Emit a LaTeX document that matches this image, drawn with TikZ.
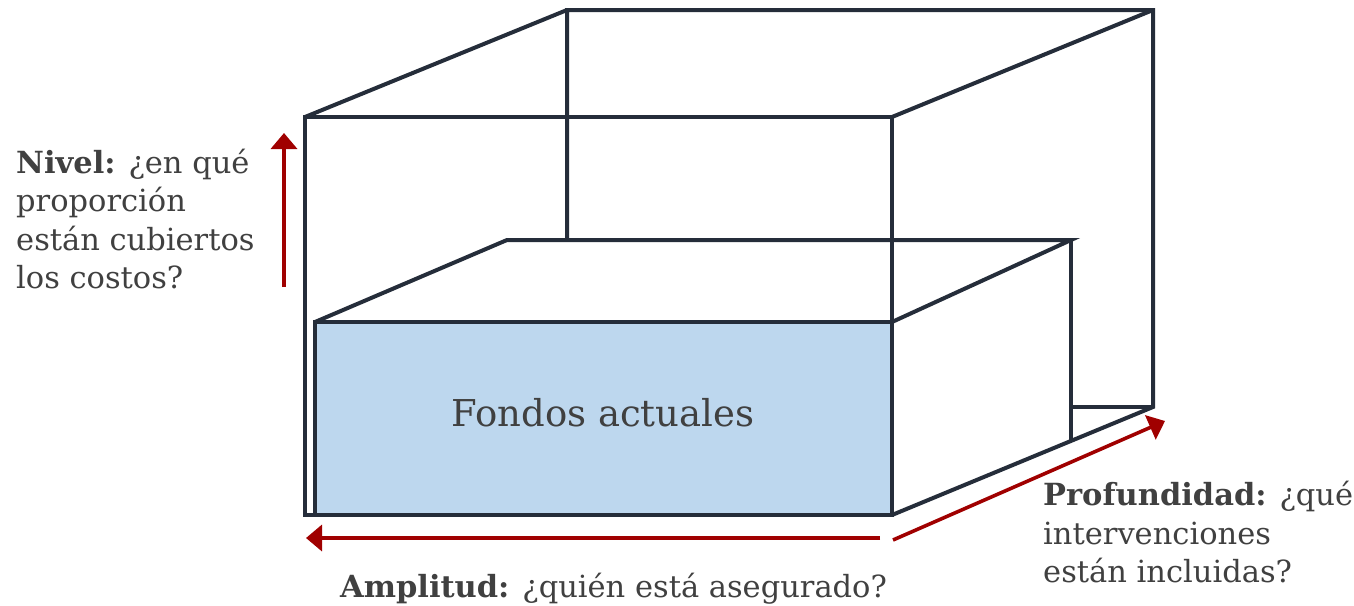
\documentclass[tikz,border=0pt]{standalone}
\usepackage{fontspec}
\setmainfont{DejaVu Serif}
\usetikzlibrary{arrows.meta}
\definecolor{boxline}{HTML}{252D3A}
\definecolor{boxfill}{HTML}{BDD7EE}
\definecolor{arrowred}{HTML}{A00000}
\definecolor{txt}{HTML}{404040}
\tikzset{
  edge/.style={draw=boxline, line width=4pt, line join=miter, line cap=butt},
  dimarrow/.style={draw=arrowred, line width=3.6pt, -{Triangle[length=16pt,width=26pt]}},
  label/.style={inner sep=0pt, text=txt, align=left, font=\fontsize{30.5}{38.4}\selectfont},
}
\begin{document}
\begin{tikzpicture}[x=1pt,y=-1pt]
\useasboundingbox (0,0) rectangle (1354,605);
% big box corners
\coordinate (BFtl) at (305,117);
\coordinate (BFtr) at (892,117);
\coordinate (BFbr) at (892,515);
\coordinate (BFbl) at (305,515);
\coordinate (BBtl) at (567,10);
\coordinate (BBtr) at (1153,10);
\coordinate (BBbr) at (1153,407);
\coordinate (BBml) at (567,240);
% small box corners
\coordinate (SFtl) at (315,322);
\coordinate (SFtr) at (892,322);
\coordinate (SFbr) at (892,515);
\coordinate (SFbl) at (315,515);
\coordinate (SBtl) at (507,240);
\coordinate (SBtr) at (1071,240);
\coordinate (SBbr) at (1071,441);
\coordinate (SBmr) at (1071,407);
% big box
\draw[edge] (BBml) -- (BBtl) -- (BBtr) -- (BBbr) -- (BFbr);
\draw[edge] (BFtl) -- (BBtl);
\draw[edge] (BFtr) -- (BBtr);
\draw[edge] (BFbl) -- (BFtl) -- (BFtr) -- (BFbr) -- cycle;
% small box
\fill[boxfill] (SFtl) rectangle (SFbr);
\draw[edge] (SFtl) -- (SBtl) -- (SBtr) -- (SFtr);
\draw[edge] (SBtr) -- (SBbr);
\draw[edge] (SBmr) -- (BBbr);
\draw[edge] (SFtl) rectangle (SFbr);
\node[inner sep=0pt, text=txt, font=\fontsize{37}{44}\selectfont] (fondos) at (603,413) {Fondos actuales};
% arrows
\coordinate (nivA) at (284,287);
\coordinate (nivB) at (284,133);
\coordinate (ampA) at (880,538);
\coordinate (ampB) at (306,538);
\coordinate (proA) at (893,540);
\coordinate (proB) at (1165,421);
\draw[dimarrow] (nivA) -- (nivB);
\draw[dimarrow] (ampA) -- (ampB);
\draw[dimarrow] (proA) -- (proB);
% labels
\node[label, anchor=north west] (nivel) at (16,149) {\textbf{Nivel:} ¿en qué\\proporción\\están cubiertos\\los costos?};
\node[label, anchor=base west] (amplitud) at (340,597) {\textbf{Amplitud:} ¿quién está asegurado?};
\node[label, anchor=north west] (prof) at (1043,481) {\textbf{Profundidad:} ¿qué\\intervenciones\\están incluidas?};
\end{tikzpicture}
\end{document}
